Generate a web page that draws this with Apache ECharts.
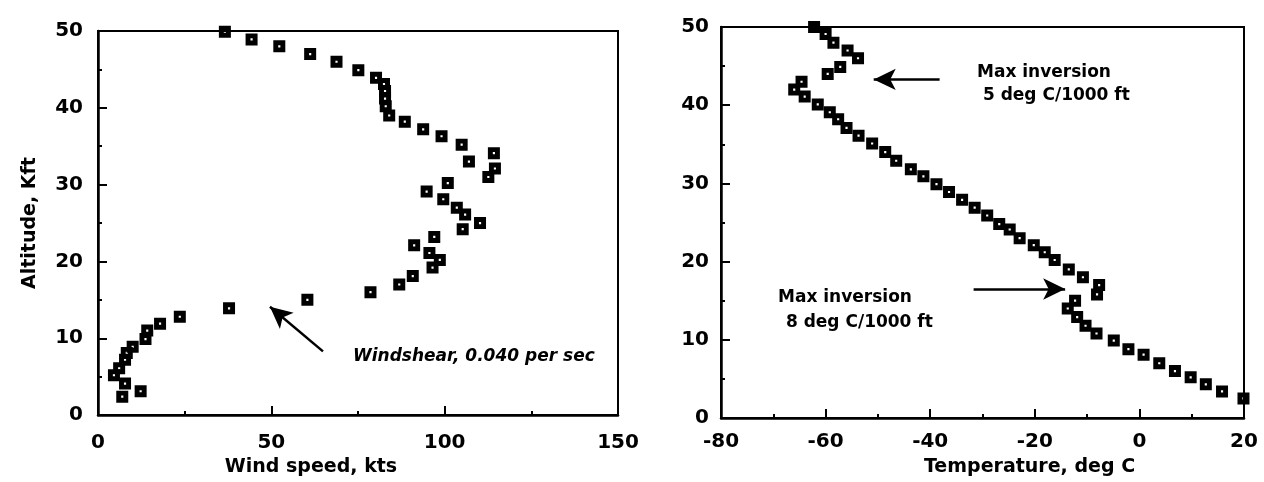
<!DOCTYPE html>
<html lang="en">
<head>
<meta charset="UTF-8">
<title>wind and temperature profiles</title>
<script src="https://cdn.jsdelivr.net/npm/echarts@6/dist/echarts.min.js"></script>
<style>
	html, body { margin: 0; padding: 0; background: #fff; }
	#container { width: 1264px; height: 482px; }
</style>
</head>
<body>
<div id="container"></div>
<script>
	// left panel: wind speed (kts) against altitude (kft)
	var windSpeed = [36.6, 44.3, 52.3, 61.2, 68.8, 75.1, 80.2, 82.5, 82.8, 82.8, 83.0, 84.0, 88.5, 93.8, 99.1, 104.9,
		114.2, 107.0, 114.5, 112.6, 100.9, 94.8, 99.6, 103.5, 105.9, 110.2, 105.2, 97.0, 91.2, 95.6, 98.6, 96.5,
		90.8, 86.9, 78.6, 60.4, 37.8, 23.6, 17.9, 14.2, 13.7, 10.0, 8.3, 7.8, 6.1, 4.6, 7.8, 12.3, 7.0];
	var windAlt = [49.9, 48.9, 48.0, 47.0, 46.0, 44.9, 43.9, 43.1, 42.2, 41.2, 40.2, 39.0, 38.2, 37.2, 36.3, 35.2,
		34.1, 33.0, 32.1, 31.0, 30.2, 29.1, 28.1, 27.0, 26.1, 25.0, 24.2, 23.2, 22.1, 21.1, 20.2, 19.2,
		18.1, 17.0, 16.0, 15.0, 13.9, 12.8, 11.9, 11.0, 9.9, 8.9, 8.1, 7.2, 6.1, 5.2, 4.1, 3.1, 2.4];

	// right panel: temperature (deg C) against altitude (kft)
	var tempC = [-62.2, -60.0, -58.5, -55.8, -53.8, -57.2, -59.6, -64.6, -66.0, -64.0, -61.5, -59.2, -57.6, -56.0,
		-53.7, -51.1, -48.6, -46.5, -43.7, -41.3, -38.8, -36.4, -33.9, -31.5, -29.1, -26.8, -24.8, -22.9, -20.2,
		-18.1, -16.2, -13.5, -10.8, -7.7, -8.1, -12.3, -13.7, -11.9, -10.3, -8.2, -4.9, -2.1, 0.8, 3.8, 6.8,
		9.8, 12.7, 15.8, 19.9];
	var tempAlt = [50.0, 49.1, 48.0, 47.0, 46.0, 44.9, 44.0, 43.0, 42.0, 41.1, 40.1, 39.1, 38.2, 37.1,
		36.1, 35.1, 34.0, 32.9, 31.8, 30.9, 29.9, 28.9, 27.9, 26.9, 25.9, 24.8, 24.1, 23.0, 22.1,
		21.2, 20.2, 19.0, 18.0, 17.0, 15.8, 15.0, 14.0, 12.9, 11.8, 10.8, 9.9, 8.8, 8.1, 7.0, 6.0,
		5.2, 4.3, 3.4, 2.5];

	// tick labels
	var windTicks = [0, 50, 100, 150];
	var tempTicks = [-80, -60, -40, -20, 0, 20];
	var altTicks = [0, 10, 20, 30, 40, 50];

	// arrows, [tail, head] in data units
	var windArrow = [[64.9, 8.3], [49.6, 14.1]];
	var upperArrow = [[-38.2, 43.3], [-50.8, 43.3]];
	var lowerArrow = [[-31.7, 16.5], [-14.2, 16.5]];

	var FONT = '"DejaVu Sans", Arial, sans-serif';
	// black square with a small white speck in the middle
	var marker = 'path://M0,0L10,0L10,10L0,10Z M4.1,4.1L4.1,5.9L5.9,5.9L5.9,4.1Z';

	function pairs(xs, ys) {
		var out = [];
		for (var i = 0; i < xs.length; i++) out.push([xs[i], ys[i]]);
		return out;
	}

	function arrowLine(a) {
		return [[{ coord: a[0], symbol: 'none' }, { coord: a[1], symbol: 'arrow' }]];
	}

	function labelStyle(margin) {
		return { color: '#000', fontFamily: FONT, fontWeight: 'bold', fontSize: 20, margin: margin };
	}

	function nameStyle(padding) {
		return { color: '#000', fontFamily: FONT, fontWeight: 'bold', fontSize: 19, padding: padding || 0 };
	}

	function axis(grid, ticks, extra) {
		var base = {
			type: 'value',
			gridIndex: grid,
			min: ticks[0],
			max: ticks[ticks.length - 1],
			interval: ticks[1] - ticks[0],
			axisLine: { show: true, onZero: false, lineStyle: { color: '#000', width: 2.5 } },
			axisTick: { show: true, inside: true, length: 9, lineStyle: { color: '#000', width: 2 } },
			minorTick: { show: true, splitNumber: 2, length: 4, lineStyle: { color: '#000', width: 2 } },
			splitLine: { show: false },
			axisLabel: labelStyle(15),
			nameLocation: 'middle',
			nameTextStyle: nameStyle()
		};
		return Object.assign(base, extra);
	}

	function annot(text, x, y, italic) {
		return {
			type: 'text', x: x, y: y,
			style: {
				text: text,
				font: (italic ? 'italic ' : '') + 'bold 17px ' + FONT,
				fill: '#000',
				align: 'left',
				verticalAlign: 'middle'
			}
		};
	}

	var markLineStyle = {
		silent: true,
		animation: false,
		symbolSize: [16, 22],
		lineStyle: { color: '#000', width: 2.5, type: 'solid' },
		label: { show: false },
		emphasis: { disabled: true }
	};

	var chart = echarts.init(document.getElementById('container'));

	var option = {
		animation: false,
		backgroundColor: '#fff',
		grid: [
			{ left: 98, top: 31, width: 520, height: 391, show: true, borderColor: '#000', borderWidth: 2 },
			{ left: 721, top: 27, width: 523, height: 391, show: true, borderColor: '#000', borderWidth: 2 }
		],
		xAxis: [
			axis(0, windTicks, { name: 'Wind speed, kts', nameGap: 36, nameTextStyle: nameStyle([0, 94, 0, 0]), axisLabel: labelStyle(18) }),
			axis(1, tempTicks, { name: 'Temperature, deg C', nameGap: 40, nameTextStyle: nameStyle([0, 0, 0, 94]), axisLabel: labelStyle(14) })
		],
		yAxis: [
			axis(0, altTicks, { name: 'Altitude, Kft', nameGap: 58 }),
			axis(1, altTicks, { axisLabel: labelStyle(12) })
		],
		series: [
			{
				type: 'scatter',
				xAxisIndex: 0, yAxisIndex: 0,
				data: pairs(windSpeed, windAlt),
				symbol: marker,
				symbolSize: 12,
				itemStyle: { color: '#000', opacity: 1 },
				markLine: Object.assign({ data: arrowLine(windArrow) }, markLineStyle)
			},
			{
				type: 'scatter',
				xAxisIndex: 1, yAxisIndex: 1,
				data: pairs(tempC, tempAlt),
				symbol: marker,
				symbolSize: 12,
				itemStyle: { color: '#000', opacity: 1 },
				markLine: Object.assign({ data: arrowLine(upperArrow).concat(arrowLine(lowerArrow)) }, markLineStyle)
			}
		],
		graphic: [
			annot('Windshear, 0.040 per sec', 353, 357, true),
			annot('Max inversion', 977, 73),
			annot(' 5 deg C/1000 ft', 977, 96),
			annot('Max inversion', 778, 298),
			annot(' 8 deg C/1000 ft', 780, 323)
		]
	};

	chart.setOption(option);
</script>
</body>
</html>
